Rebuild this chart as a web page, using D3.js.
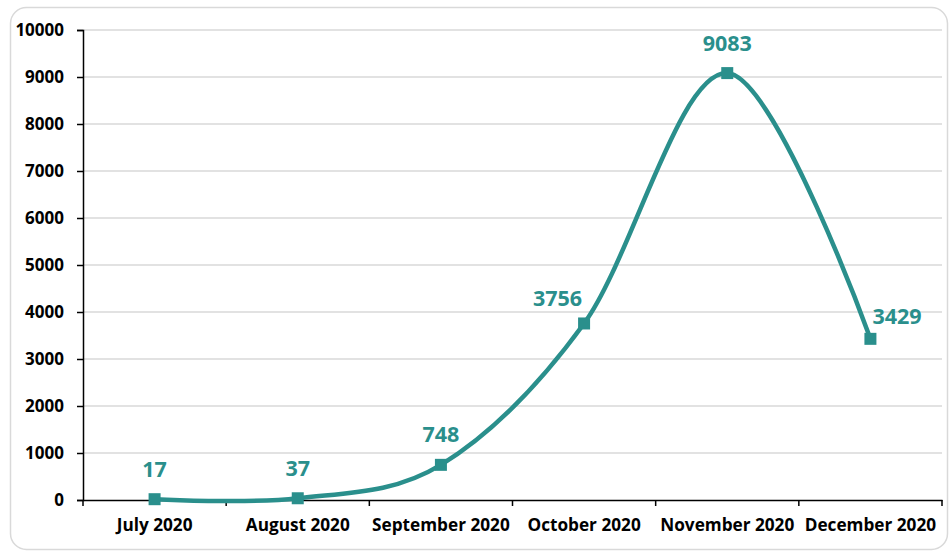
<!DOCTYPE html>
<html><head><meta charset="utf-8">
<script src="https://cdn.jsdelivr.net/npm/d3@7"></script>
<style>
html,body{margin:0;padding:0;background:#fff;}
svg{display:block;font-family:"Open Sans",sans-serif;}
</style></head>
<body><svg id="c" width="949" height="553"></svg>
<script>
const categories = ["July 2020","August 2020","September 2020","October 2020","November 2020","December 2020"];
const values = [17, 37, 748, 3756, 9083, 3429];
const yTicks = [0,1000,2000,3000,4000,5000,6000,7000,8000,9000,10000];

const svg = d3.select("#c");
const teal = "#2a8f8c";
const m = {left:83, right:942, top:30, bottom:500};

svg.append("rect").attr("x",10.5).attr("y",7.5).attr("width",937).attr("height",542)
  .attr("rx",16).attr("fill","#fff").attr("stroke","#d9d9d9").attr("stroke-width",1.5);

const x = d3.scaleBand().domain(categories).range([m.left,m.right]).paddingInner(0).paddingOuter(0);
const y = d3.scaleLinear().domain([0,10000]).range([m.bottom,m.top]);

// gridlines
svg.append("g").selectAll("line").data(yTicks.filter(d=>d>0)).join("line")
  .attr("x1",m.left).attr("x2",m.right).attr("y1",d=>y(d)).attr("y2",d=>y(d))
  .attr("stroke","#d9d9d9").attr("stroke-width",1.5);

// y axis
const ya = svg.append("g").attr("transform",`translate(${m.left},0)`)
  .call(d3.axisLeft(y).tickValues(yTicks).tickFormat(d3.format("d")).tickSize(6).tickPadding(13));
ya.select(".domain").attr("stroke","#000").attr("stroke-width",1.5);
ya.selectAll(".tick line").attr("stroke","#000").attr("stroke-width",1.5);
ya.selectAll("text").attr("font-family","Open Sans").attr("font-weight","bold").attr("font-size",17).attr("fill","#000");

// x axis
const xa = svg.append("g").attr("transform",`translate(0,${m.bottom})`)
  .call(d3.axisBottom(x).tickSize(0).tickPadding(19));
xa.select(".domain").attr("stroke","#000").attr("stroke-width",1.5);
xa.selectAll("text").attr("font-family","Open Sans").attr("font-weight","bold").attr("font-size",17.2).attr("fill","#000");
// boundary ticks
const bounds = categories.map(c=>x(c)).concat([m.right]);
svg.append("g").selectAll("line").data(bounds).join("line")
  .attr("x1",d=>d).attr("x2",d=>d).attr("y1",m.bottom).attr("y2",m.bottom+6)
  .attr("stroke","#000").attr("stroke-width",1.5);

const pts = categories.map((c,i)=>({c, v:values[i], x:x(c)+x.bandwidth()/2, y:y(values[i])}));

const line = d3.line().x(d=>d.x).y(d=>d.y).curve(d3.curveCardinal.tension(0));
svg.append("path").datum(pts).attr("d",line).attr("fill","none")
  .attr("stroke",teal).attr("stroke-width",4.5).attr("stroke-linejoin","round");

svg.append("g").selectAll("rect").data(pts).join("rect")
  .attr("x",d=>d.x-6).attr("y",d=>d.y-6).attr("width",12).attr("height",12).attr("fill",teal);

// label placement: default above; October to the upper-left; December to the upper-right
const place = (d,i) => i===3 ? {dx:-2, dy:-17.5, a:"end"} : i===5 ? {dx:2, dy:-14.5, a:"start"} : {dx:0, dy:-22.5, a:"middle"};
svg.append("g").selectAll("text").data(pts).join("text")
  .attr("x",(d,i)=> d.x + place(d,i).dx)
  .attr("y",(d,i)=> d.y + place(d,i).dy)
  .attr("text-anchor",(d,i)=> place(d,i).a)
  .attr("font-family","Open Sans").attr("font-weight","bold").attr("font-size",21.5)
  .attr("fill",teal).text(d=>d.v);
</script></body></html>
